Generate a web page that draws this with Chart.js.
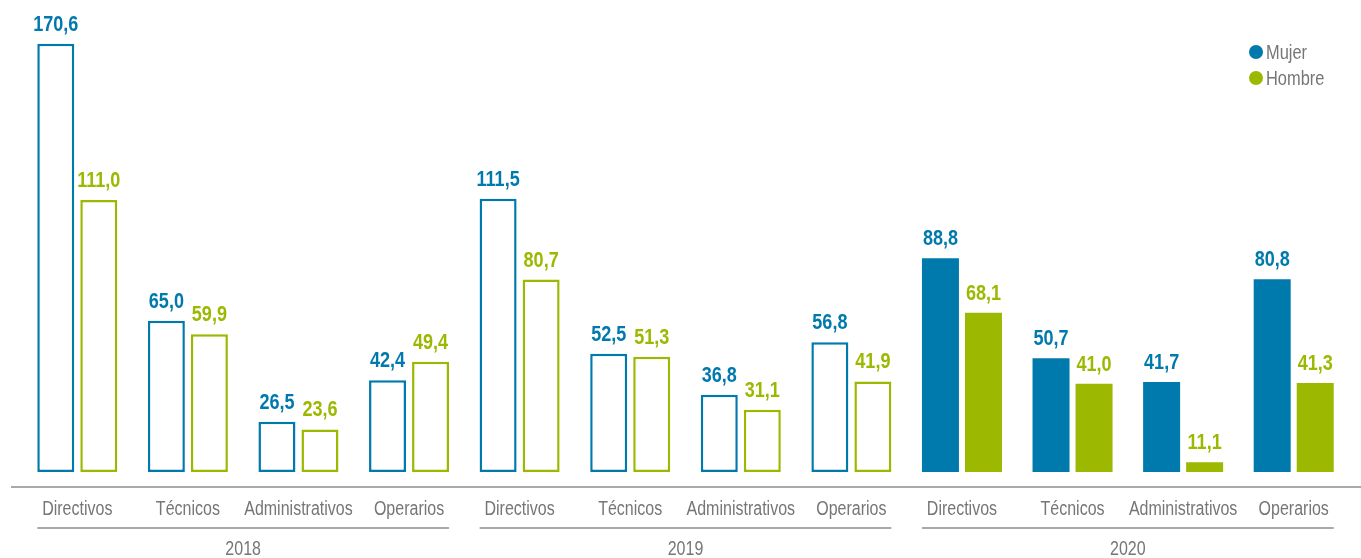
<!DOCTYPE html>
<html>
<head>
<meta charset="utf-8">
<script src="https://cdn.jsdelivr.net/npm/chart.js@4.4.1/dist/chart.umd.min.js"></script>
<style>
  html, body { margin: 0; padding: 0; background: #fff; }
  #wrap { width: 1361px; height: 558px; position: relative; }
</style>
</head>
<body>
<div id="wrap"><canvas id="brechaChart" width="1361" height="558"></canvas></div>
<script>
// categories and values
const categories = [
  'Directivos', 'Técnicos', 'Administrativos', 'Operarios',
  'Directivos', 'Técnicos', 'Administrativos', 'Operarios',
  'Directivos', 'Técnicos', 'Administrativos', 'Operarios'
];
const years = ['2018', '2019', '2020'];
const mujer = [170.6, 65.0, 26.5, 42.4, 111.5, 52.5, 36.8, 56.8, 88.8, 50.7, 41.7, 80.8];
const hombre = [111.0, 59.9, 23.6, 49.4, 80.7, 51.3, 31.1, 41.9, 68.1, 41.0, 11.1, 41.3];

const BLUE = '#0079ad';
const GREEN = '#9cb800';
const GREY = '#767676';
const FONT = "'Liberation Sans', Arial, sans-serif";
const Y_MIN = 7.4;

// no condensed font installed, so squeeze text horizontally
const narrowText = (c, text, x, y, sx) => {
  c.save();
  c.translate(x, y);
  c.scale(sx, 1);
  c.fillText(text, 0, 0);
  c.restore();
};

document.addEventListener('DOMContentLoaded', () => {
  const ctx = document.getElementById('brechaChart').getContext('2d');

  // outline bars for 2018 & 2019, solid for 2020
  const isSolid = i => i >= 8;
  const barStyle = color => ({
    backgroundColor: c => isSolid(c.dataIndex) ? color : '#ffffff',
    borderColor: color,
    borderWidth: c => isSolid(c.dataIndex) ? 0 : 2.5,
    borderSkipped: false
  });

  // value labels above bars (comma decimals)
  const valueLabels = {
    id: 'valueLabels',
    afterDatasetsDraw(chart) {
      const c = chart.ctx;
      c.save();
      c.font = `bold 22px ${FONT}`;
      c.textAlign = 'center';
      c.textBaseline = 'alphabetic';
      chart.data.datasets.forEach((ds, di) => {
        const meta = chart.getDatasetMeta(di);
        meta.data.forEach((bar, i) => {
          c.fillStyle = ds.borderColor;
          narrowText(c, ds.data[i].toFixed(1).replace('.', ','), bar.x, bar.y - 13, 0.82);
        });
      });
      c.restore();
    }
  };

  // category ticks, base line, year groups, legend
  const decorations = {
    id: 'decorations',
    afterDraw(chart) {
      const c = chart.ctx;
      const area = chart.chartArea;
      const xScale = chart.scales.x;
      const m0 = chart.getDatasetMeta(0).data;
      const m1 = chart.getDatasetMeta(1).data;
      c.save();
      // axis line
      c.strokeStyle = '#8c8c8c';
      c.lineWidth = 1.5;
      c.beginPath();
      c.moveTo(11, area.bottom + 15);
      c.lineTo(chart.width, area.bottom + 15);
      c.stroke();

      c.font = `20px ${FONT}`;
      c.textAlign = 'center';
      c.textBaseline = 'middle';
      c.fillStyle = GREY;

      // category labels from the x scale
      chart.data.labels.forEach((lab, i) => {
        narrowText(c, lab, xScale.getPixelForTick(i), area.bottom + 37, 0.8);
      });

      // group underline + year
      years.forEach((yr, g) => {
        const a = m0[g * 4];
        const b = m1[g * 4 + 3];
        const x1 = a.x - a.width / 2;
        const x2 = b.x + b.width / 2;
        c.beginPath();
        c.moveTo(x1, area.bottom + 56);
        c.lineTo(x2, area.bottom + 56);
        c.stroke();
        narrowText(c, yr, (x1 + x2) / 2, area.bottom + 77, 0.8);
      });

      // legend
      c.textAlign = 'left';
      chart.data.datasets.forEach((ds, di) => {
        const y = 52 + di * 26;
        c.fillStyle = ds.borderColor;
        c.beginPath();
        c.arc(1256, y, 7, 0, Math.PI * 2);
        c.fill();
        c.fillStyle = GREY;
        narrowText(c, ds.label, 1266, y + 1, 0.82);
      });
      c.restore();
    }
  };

  new Chart(ctx, {
    type: 'bar',
    data: {
      labels: categories,
      datasets: [
        { label: 'Mujer', data: mujer, ...barStyle(BLUE) },
        { label: 'Hombre', data: hombre, ...barStyle(GREEN) }
      ]
    },
    options: {
      responsive: false,
      animation: false,
      layout: { padding: { left: 22, right: 12, top: 19, bottom: 0 } },
      datasets: {
        bar: { base: Y_MIN, categoryPercentage: 0.778, barPercentage: 0.86 }
      },
      plugins: {
        legend: { display: false },
        tooltip: { enabled: false }
      },
      scales: {
        y: { display: false, min: Y_MIN, max: 180 },
        x: {
          grid: { display: false },
          border: { display: false },
          ticks: { display: false },
          afterFit: scale => { scale.height = 86; }
        }
      }
    },
    plugins: [valueLabels, decorations]
  });
});
</script>
</body>
</html>
